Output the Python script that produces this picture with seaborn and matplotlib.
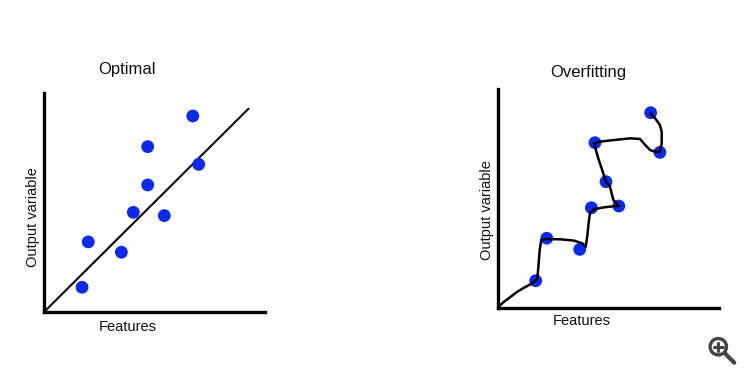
import matplotlib
matplotlib.use("Agg")
import matplotlib.pyplot as plt
import seaborn as sns
from matplotlib.patches import Circle
from matplotlib.lines import Line2D

# %% DATA (axis units 0-10)

# left panel: "Optimal"
opt_x = [1.72, 2.00, 3.50, 4.04, 4.69, 4.69, 5.44, 6.73, 7.00]
opt_y = [1.13, 3.20, 2.73, 4.55, 5.80, 7.55, 4.40, 8.95, 6.74]
fit_x = [0.0, 9.25]
fit_y = [0.0, 9.28]

# right panel: "Overfitting"
over_x = [1.72, 2.22, 3.71, 4.24, 5.48, 4.90, 4.40, 7.34, 6.92]
over_y = [1.26, 3.20, 2.69, 4.59, 4.67, 5.78, 7.56, 7.12, 8.93]
curve_x = [0.00, 0.12, 0.29, 0.59, 0.89, 1.19, 1.49, 1.64, 1.79, 1.84, 1.90,
           1.97, 2.17, 2.85, 3.45, 3.83, 3.98, 4.05, 4.13, 4.18, 4.36, 4.81,
           5.34, 5.48, 5.23, 5.08, 4.90, 4.75, 4.55, 4.40, 4.36, 4.63, 5.23,
           5.99, 6.44, 6.67, 6.89, 7.12, 7.34, 7.42, 7.42, 7.34, 7.12, 6.92]
curve_y = [0.00, 0.15, 0.30, 0.53, 0.76, 0.94, 1.10, 1.21, 1.32, 1.90, 2.66,
           3.12, 3.16, 3.15, 3.09, 2.97, 2.81, 3.27, 4.03, 4.37, 4.52, 4.61,
           4.67, 4.67, 4.95, 5.55, 5.78, 6.24, 6.85, 7.38, 7.53, 7.61, 7.68,
           7.76, 7.73, 7.46, 7.23, 7.15, 7.15, 7.53, 8.06, 8.37, 8.68, 8.90]

titles = ["Optimal", "Overfitting"]
x_label = "Features"
y_label = "Output variable"

DOT = "#0b2aee"

# %% PLOT

sns.set_style("white")
plt.rcParams["font.family"] = ["Liberation Sans", "DejaVu Sans"]

fig = plt.figure(figsize=(7.5, 3.77), dpi=100)
ax1 = fig.add_axes([0.0587, 0.1724, 0.2947, 0.581])
ax2 = fig.add_axes([0.6636, 0.1822, 0.2947, 0.581])

sns.lineplot(x=fit_x, y=fit_y, color="black", linewidth=1.5, ax=ax1, zorder=2)
sns.scatterplot(x=opt_x, y=opt_y, color=DOT, s=85, edgecolor="none", ax=ax1, zorder=3)

sns.scatterplot(x=over_x, y=over_y, color=DOT, s=85, edgecolor="none", ax=ax2, zorder=2)
sns.lineplot(x=curve_x, y=curve_y, sort=False, estimator=None, color="black",
             linewidth=1.8, ax=ax2, zorder=3)

label_pos = {
    ax1: dict(title=(0.376, 1.105), xl=(0.381, -0.068), yl=(-0.052, 0.434)),
    ax2: dict(title=(0.409, 1.076), xl=(0.380, -0.057), yl=(-0.050, 0.449)),
}

for ax, title in zip([ax1, ax2], titles):
    ax.set(xlim=(0, 10), ylim=(0, 10), xticks=[], yticks=[])
    sns.despine(ax=ax, top=True, right=True)
    for side in ["left", "bottom"]:
        ax.spines[side].set_linewidth(2.4)
        ax.spines[side].set_color("black")
    p = label_pos[ax]
    ax.text(*p["title"], title, transform=ax.transAxes, ha="center", va="center",
            fontsize=12, color="#111111")
    ax.text(*p["xl"], x_label, transform=ax.transAxes, ha="center", va="center",
            fontsize=10.5, color="#111111")
    ax.text(*p["yl"], y_label, transform=ax.transAxes, ha="center", va="center",
            rotation=90, fontsize=10.5, color="#111111")

# zoom icon in the bottom right corner (positions in inches)
icon = "#444444"
tr = fig.dpi_scale_trans
cx, cy = 7.183, (377 - 346.7) / 100
fig.add_artist(Circle((cx, cy), 0.082, transform=tr, fill=False,
                      edgecolor=icon, linewidth=2.4))
fig.add_artist(Line2D([cx + 0.065, cx + 0.16], [cy - 0.065, cy - 0.16], transform=tr,
                      color=icon, linewidth=3, solid_capstyle="round"))
fig.add_artist(Line2D([cx - 0.042, cx + 0.042], [cy, cy], transform=tr,
                      color=icon, linewidth=2.2))
fig.add_artist(Line2D([cx, cx], [cy - 0.042, cy + 0.042], transform=tr,
                      color=icon, linewidth=2.2))

fig.savefig("out.png", dpi=100, facecolor="white")
